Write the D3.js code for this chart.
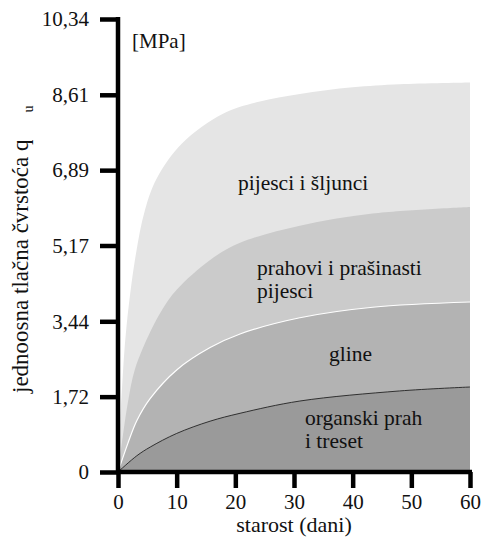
<!DOCTYPE html>
<html>
<head>
<meta charset="utf-8">
<script src="https://cdn.jsdelivr.net/npm/d3@7"></script>
<style>
  html, body { margin: 0; padding: 0; background: #fff; }
  svg { display: block; }
</style>
</head>
<body>
<svg id="chart" width="485" height="543"></svg>
<script>
// ---- data ----
const xTicks = [0, 10, 20, 30, 40, 50, 60];
const yTicks = [0, 1.72, 3.44, 5.17, 6.89, 8.61, 10.34];
const yTickLabels = ["0", "1,72", "3,44", "5,17", "6,89", "8,61", "10,34"];

const sandDays   = [0, 0.3, 0.7, 1.4, 2.9, 4.6, 6.6, 10.9, 17.9, 24, 31, 40, 48, 60];
const sandValues = [0, 0.95, 1.95, 3.25, 4.85, 5.98, 6.7, 7.5, 8.18, 8.45, 8.63, 8.78, 8.85, 8.89];

const siltDays   = [0, 0.85, 1.7, 2.9, 5.5, 7.5, 10, 15.7, 20.8, 31, 43.4, 60];
const siltValues = [0, 0.85, 1.6, 2.35, 3.2, 3.7, 4.16, 4.84, 5.23, 5.62, 5.9, 6.05];

const clayDays   = [0, 1.7, 3.2, 5.5, 10, 15.7, 20.8, 31, 43.4, 60];
const clayValues = [0, 0.66, 1.17, 1.68, 2.33, 2.84, 3.15, 3.52, 3.76, 3.88];

const organicDays   = [0, 3.2, 5.5, 10, 15.7, 20.8, 31, 48, 60];
const organicValues = [0, 0.37, 0.57, 0.88, 1.16, 1.34, 1.62, 1.85, 1.94];

const FONT = "Liberation Serif";

// ---- scales ----
const svg = d3.select("#chart");
const x = d3.scaleLinear().domain([0, 60]).range([118, 470]);
const y = d3.scaleLinear().domain([0, 10.34]).range([472, 19]);

const zip = (ds, vs) => ds.map((d, i) => ({ t: d, v: vs[i] }));
const series = [
  { pts: zip(sandDays, sandValues), fill: "#e5e5e5" },
  { pts: zip(siltDays, siltValues), fill: "#cbcbcb" },
  { pts: zip(clayDays, clayValues), fill: "#b3b3b3", stroke: "#ffffff", sw: 1.2 },
  { pts: zip(organicDays, organicValues), fill: "#9a9a9a", stroke: "#222", sw: 0.9 }
];

const curve = d3.curveCatmullRom.alpha(0.5);
const area = d3.area().x(d => x(d.t)).y0(y(0)).y1(d => y(d.v)).curve(curve);
const line = d3.line().x(d => x(d.t)).y(d => y(d.v)).curve(curve);

series.forEach(s => {
  svg.append("path").attr("d", area(s.pts)).attr("fill", s.fill);
});
series.forEach(s => {
  if (s.stroke) {
    svg.append("path").attr("d", line(s.pts)).attr("fill", "none")
      .attr("stroke", s.stroke).attr("stroke-width", s.sw);
  }
});

// ---- axes ----
const yAxis = d3.axisLeft(y).tickValues(yTicks)
  .tickFormat((d, i) => yTickLabels[i]).tickSize(18).tickSizeOuter(0).tickPadding(11);
const gy = svg.append("g").attr("transform", `translate(${x(0)},0)`).call(yAxis);

const xAxis = d3.axisBottom(x).tickValues(xTicks).tickSize(16).tickSizeOuter(0).tickPadding(6);
const gx = svg.append("g").attr("transform", `translate(0,${y(0)})`).call(xAxis);

[gx, gy].forEach(g => {
  g.attr("font-family", FONT).attr("font-size", 21);
  g.select(".domain").attr("stroke", "#000").attr("stroke-width", 4.5);
  g.selectAll(".tick line").attr("stroke", "#000").attr("stroke-width", 4.5);
  g.selectAll(".tick text").attr("fill", "#111")
    .attr("font-family", FONT).attr("font-size", 21);
});
gy.select(".domain").attr("d", `M0,${y(10.34) - 2}V${y(0) + 2}`);
gx.select(".domain").attr("d", `M${x(0) - 2},0H${x(60) + 2}`);

// ---- titles and labels ----
function txt(xp, yp, size) {
  return svg.append("text").attr("x", xp).attr("y", yp)
    .attr("font-family", FONT).attr("font-size", size).attr("fill", "#111");
}
txt(132, 48, 21).text("[MPa]");
txt(x(30), 532, 22).attr("text-anchor", "middle").text("starost (dani)");

const yt = svg.append("text")
  .attr("transform", "translate(28,393) rotate(-90)")
  .attr("font-family", FONT).attr("font-size", 23).attr("fill", "#111");
yt.append("tspan").text("jednoosna tlačna čvrstoća q");
yt.append("tspan").attr("dx", 27).attr("dy", 5).attr("font-size", 14).text("u");

const labels = [
  { lines: ["pijesci i šljunci"], x: 238, y: 190 },
  { lines: ["prahovi i prašinasti", "pijesci"], x: 257, y: 275 },
  { lines: ["gline"], x: 329, y: 361 },
  { lines: ["organski prah", "i treset"], x: 305, y: 425 }
];
labels.forEach(l => {
  l.lines.forEach((s, i) => {
    txt(l.x, l.y + i * 23, 21.5).text(s);
  });
});
</script>
</body>
</html>
